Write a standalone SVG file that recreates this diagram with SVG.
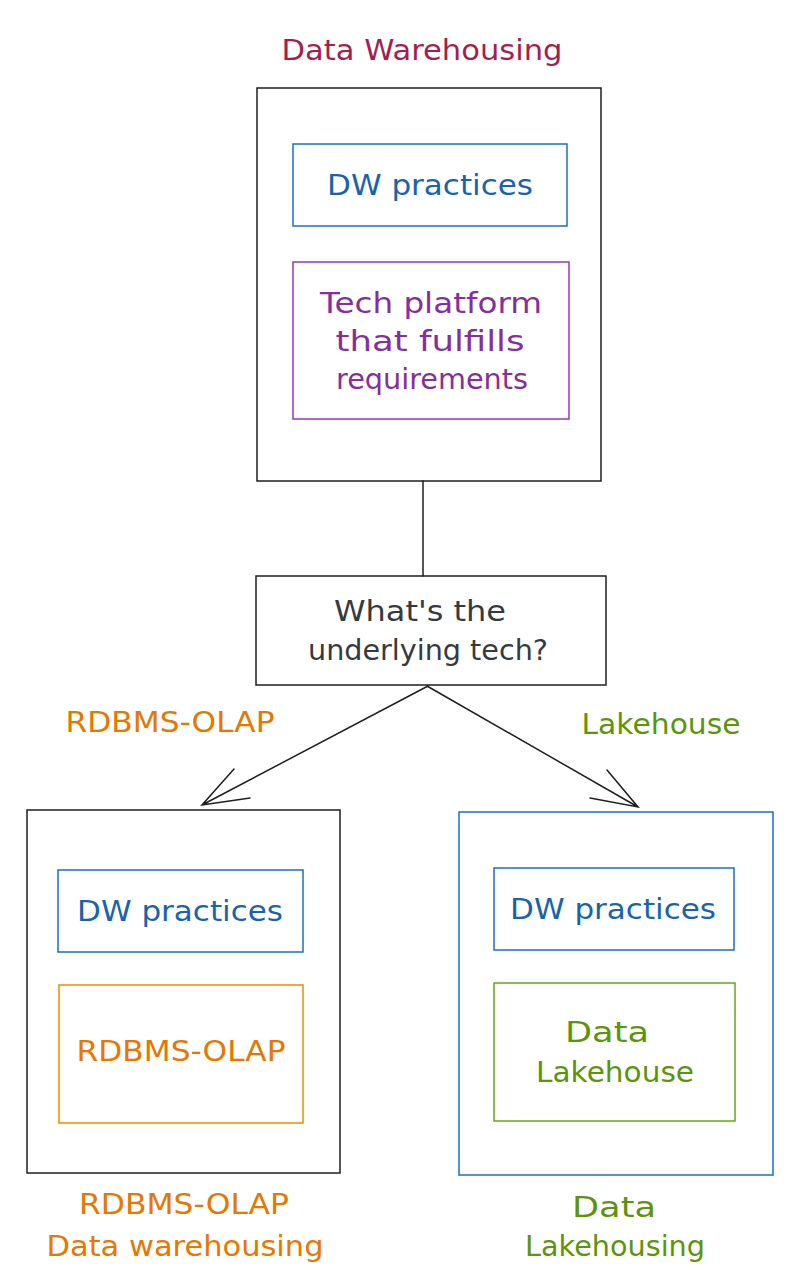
<svg xmlns="http://www.w3.org/2000/svg" width="796" height="1278" viewBox="0 0 796 1278">
<style>
text{font-family:"DejaVu Sans","Noto Sans",sans-serif;font-size:28px;text-anchor:middle}
.box{fill:none;stroke-width:1.5}
.dark{stroke:#1e1e1e}
.blue{stroke:#1971c2}
.purple{stroke:#9c36b5}
.orange{stroke:#f08c00}
.green{stroke:#66a80f}
.tb{fill:#1864ab}.tp{fill:#862e9c}.to{fill:#e67700}.tg{fill:#5c940d}.tr{fill:#a61e4d}.tk{fill:#343a40}
.conn{fill:none;stroke:#1e1e1e;stroke-width:1.5;stroke-linecap:round}
</style>
<rect width="796" height="1278" fill="#ffffff"/>
<g id="title"><text class="tr" x="422" y="60" textLength="281" lengthAdjust="spacingAndGlyphs">Data Warehousing</text></g>
<g id="dw-main"><rect class="box dark" x="257" y="88" width="344" height="393"/></g>
<g id="dw-practices-top"><rect class="box blue" x="293" y="144" width="274" height="82"/>
<text class="tb" x="430" y="195" textLength="206" lengthAdjust="spacingAndGlyphs">DW practices</text></g>
<g id="tech-platform"><rect class="box purple" x="293" y="262" width="276" height="157"/>
<text class="tp" x="431" y="313" textLength="222" lengthAdjust="spacingAndGlyphs">Tech platform</text>
<text class="tp" x="430" y="351" textLength="189" lengthAdjust="spacingAndGlyphs">that fulfills</text>
<text class="tp" x="432" y="389" textLength="192" lengthAdjust="spacingAndGlyphs">requirements</text></g>
<g id="question"><rect class="box dark" x="256" y="576" width="350" height="109"/>
<text class="tk" x="420" y="621" textLength="172" lengthAdjust="spacingAndGlyphs">What's the</text>
<text class="tk" x="428" y="660" textLength="240" lengthAdjust="spacingAndGlyphs">underlying tech?</text></g>
<g id="label-rdbms"><text class="to" x="170" y="732" textLength="209" lengthAdjust="spacingAndGlyphs">RDBMS-OLAP</text></g>
<g id="label-lakehouse"><text class="tg" x="661" y="734" textLength="159" lengthAdjust="spacingAndGlyphs">Lakehouse</text></g>
<g id="left-main"><rect class="box dark" x="27" y="810" width="313" height="363"/></g>
<g id="left-dw"><rect class="box blue" x="58" y="870" width="245" height="82"/>
<text class="tb" x="180" y="921" textLength="206" lengthAdjust="spacingAndGlyphs">DW practices</text></g>
<g id="left-rdbms"><rect class="box orange" x="59" y="985" width="244" height="138"/>
<text class="to" x="181" y="1061" textLength="209" lengthAdjust="spacingAndGlyphs">RDBMS-OLAP</text></g>
<g id="right-main"><rect class="box blue" x="459" y="812" width="314" height="363"/></g>
<g id="right-dw"><rect class="box blue" x="494" y="868" width="240" height="82"/>
<text class="tb" x="613" y="919" textLength="206" lengthAdjust="spacingAndGlyphs">DW practices</text></g>
<g id="right-lakehouse"><rect class="box green" x="494" y="983" width="241" height="138"/>
<text class="tg" x="607" y="1042" textLength="84" lengthAdjust="spacingAndGlyphs">Data</text>
<text class="tg" x="615" y="1082" textLength="158" lengthAdjust="spacingAndGlyphs">Lakehouse</text></g>
<g id="caption-left"><text class="to" x="184" y="1214" textLength="210" lengthAdjust="spacingAndGlyphs">RDBMS-OLAP</text>
<text class="to" x="185" y="1256" textLength="277" lengthAdjust="spacingAndGlyphs">Data warehousing</text></g>
<g id="caption-right"><text class="tg" x="614" y="1217" textLength="84" lengthAdjust="spacingAndGlyphs">Data</text>
<text class="tg" x="615" y="1256" textLength="180" lengthAdjust="spacingAndGlyphs">Lakehousing</text></g>
<g id="connectors">
<path class="conn" d="M423 481 L423 576"/>
<path class="conn" d="M428 686 L202 805 M234 769 L202 805 L250 798"/>
<path class="conn" d="M427 686 L638 807 M607 770 L638 807 L590 798"/>
</g>
</svg>
